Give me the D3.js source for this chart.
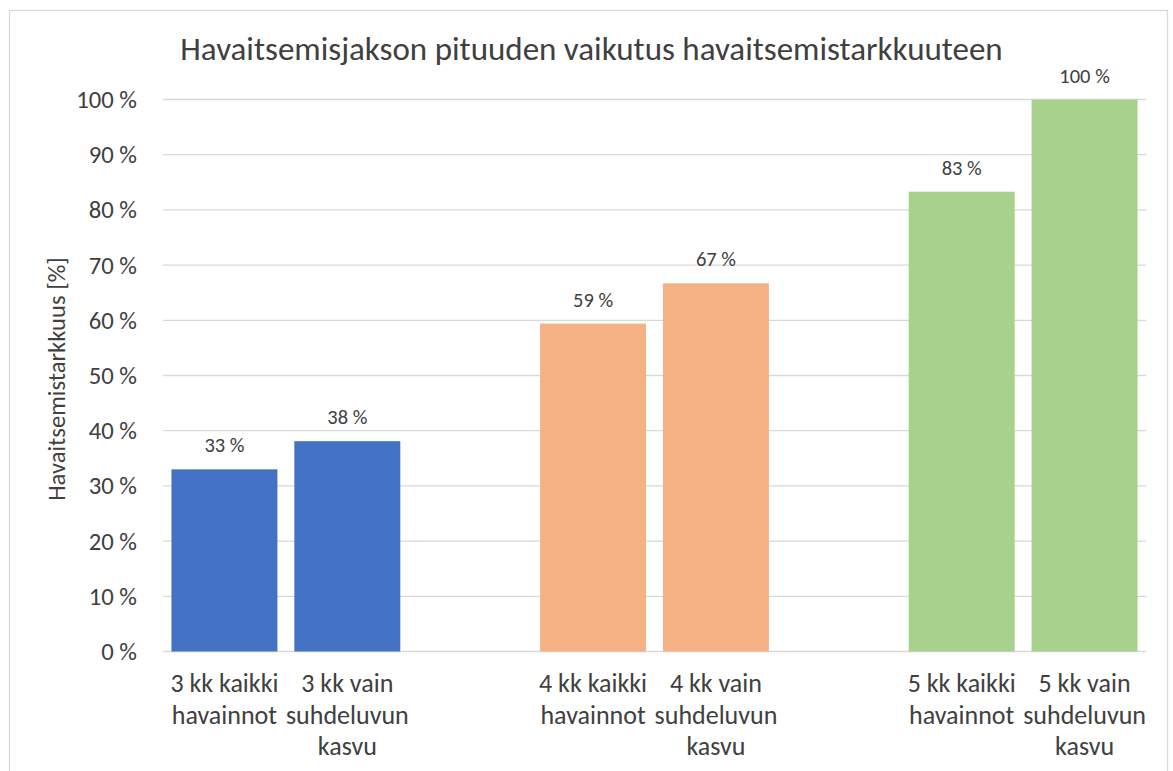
<!DOCTYPE html>
<html>
<head>
<meta charset="utf-8">
<script src="https://cdn.jsdelivr.net/npm/d3@7"></script>
<style>
  html, body { margin: 0; padding: 0; background: #fff; }
  svg { display: block; }
  text { font-family: Carlito, Lato, "Open Sans", sans-serif; fill: #404040; }
</style>
</head>
<body>
<svg id="chart" width="1173" height="771"></svg>
<script>
// ---- data ----
const title = "Havaitsemisjakson pituuden vaikutus havaitsemistarkkuuteen";
const yAxisTitle = "Havaitsemistarkkuus [%]";
const groups = ["3 kk", "4 kk", "5 kk"];
const categories = [
  ["3 kk kaikki", "havainnot"],
  ["3 kk vain", "suhdeluvun", "kasvu"],
  ["4 kk kaikki", "havainnot"],
  ["4 kk vain", "suhdeluvun", "kasvu"],
  ["5 kk kaikki", "havainnot"],
  ["5 kk vain", "suhdeluvun", "kasvu"]
];
const categoryGroup = [0, 0, 1, 1, 2, 2];
const values = [33.0, 38.1, 59.4, 66.7, 83.3, 100];
const groupColors = ["#4472C4", "#F4B183", "#A9D18E"];
const yTicks = [0, 10, 20, 30, 40, 50, 60, 70, 80, 90, 100];

// ---- layout ----
const svg = d3.select("#chart");
const plot = { left: 163, right: 1146, top: 99.5, bottom: 651.5 };

// chart border
svg.append("rect")
  .attr("x", 9.5).attr("y", 10.5)
  .attr("width", 1158).attr("height", 780)
  .attr("fill", "#fff").attr("stroke", "#d9d9d9").attr("stroke-width", 1.3);

// slot keys: each category, with an empty spacer slot between groups
const slots = [];
categories.forEach((c, i) => {
  if (i > 0 && categoryGroup[i] !== categoryGroup[i - 1]) slots.push("gap" + i);
  slots.push("c" + i);
});

const x = d3.scaleBand()
  .domain(slots)
  .range([plot.left, plot.right])
  .paddingInner(0.1375)
  .paddingOuter(0.1375 / 2);

const y = d3.scaleLinear().domain([0, 100]).range([plot.bottom, plot.top]);

// gridlines
svg.append("g").selectAll("line").data(yTicks).join("line")
  .attr("x1", plot.left).attr("x2", plot.right)
  .attr("y1", d => y(d)).attr("y2", d => y(d))
  .attr("stroke", "#d9d9d9").attr("stroke-width", 1.3);

// y axis tick labels via d3 axis
const yAxis = d3.axisLeft(y).tickValues(yTicks).tickSize(0).tickPadding(26)
  .tickFormat(d => d + "\u00A0%");
const yg = svg.append("g").attr("transform", `translate(${plot.left},0)`).call(yAxis);
yg.select(".domain").remove();
yg.selectAll("text")
  .style("font-size", "24.7px")
  .style("fill", "#404040")
  .style("font-family", "Carlito, Lato, 'Open Sans', sans-serif");

// bars
const data = values.map((v, i) => ({ v, i, key: "c" + i, g: categoryGroup[i] }));
svg.append("g").selectAll("rect").data(data).join("rect")
  .attr("x", d => x(d.key))
  .attr("width", x.bandwidth())
  .attr("y", d => y(d.v))
  .attr("height", d => y(0) - y(d.v))
  .attr("fill", d => groupColors[d.g]);

// data labels
svg.append("g").selectAll("text").data(data).join("text")
  .attr("x", d => x(d.key) + x.bandwidth() / 2)
  .attr("y", d => y(d.v) - 17)
  .attr("text-anchor", "middle")
  .style("font-size", "20.5px")
  .text(d => Math.round(d.v) + "\u00A0%");

// category labels
const catG = svg.append("g");
data.forEach(d => {
  const cx = x(d.key) + x.bandwidth() / 2;
  const t = catG.append("text")
    .attr("x", cx)
    .attr("y", 692)
    .attr("text-anchor", "middle")
    .style("font-size", "26px");
  categories[d.i].forEach((line, li) => {
    t.append("tspan")
      .attr("x", cx)
      .attr("dy", li === 0 ? 0 : 31.5)
      .text(line);
  });
});

// title
svg.append("text")
  .attr("x", 591.5).attr("y", 60)
  .attr("text-anchor", "middle")
  .style("font-size", "33px")
  .text(title);

// y axis title
svg.append("text")
  .attr("transform", `translate(65,379) rotate(-90)`)
  .attr("text-anchor", "middle")
  .style("font-size", "24.6px")
  .text(yAxisTitle);
</script>
</body>
</html>
